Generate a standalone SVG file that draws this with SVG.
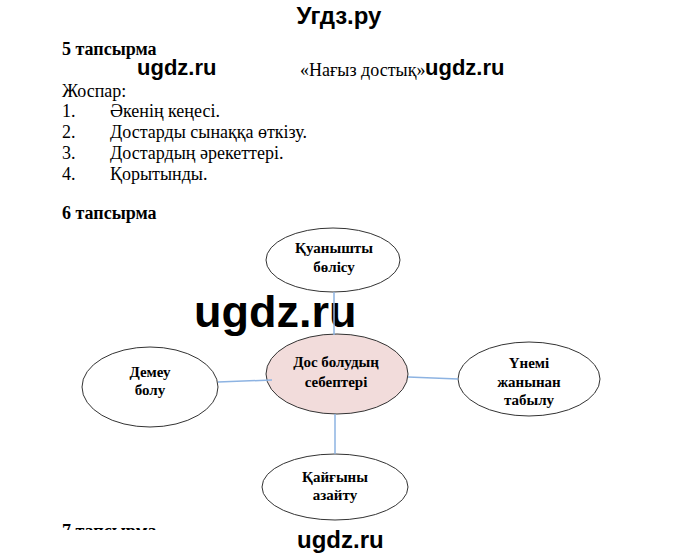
<svg xmlns="http://www.w3.org/2000/svg" width="680" height="559" viewBox="0 0 680 559">
<defs>
<style>
.wm{font-family:"Liberation Sans",Arial,sans-serif;font-weight:bold;fill:#000}
.t{font-family:"Liberation Serif","Times New Roman",serif;font-size:18px;fill:#000}
.b{font-weight:bold}
.n{font-family:"Liberation Serif","Times New Roman",serif;font-size:15px;font-weight:bold;fill:#000;text-anchor:middle}
.e{fill:#fff;stroke:#333;stroke-width:1}
.c{stroke:#8db3e2;stroke-width:1.5;fill:none}
</style>
<clipPath id="cut"><rect x="0" y="0" width="680" height="530"/></clipPath>
</defs>
<rect width="680" height="559" fill="#fff"/>
<text class="wm" x="339" y="24" font-size="24" text-anchor="middle">Угдз.ру</text>
<text class="t b" x="62" y="55">5 тапсырма</text>
<text class="wm" x="137" y="75" font-size="22">ugdz.ru</text>
<text class="t" x="300" y="76">«Нағыз достық»</text>
<text class="wm" x="425" y="75" font-size="22">ugdz.ru</text>
<text class="t" x="62" y="97">Жоспар:</text>
<text class="t" x="62" y="117">1.</text><text class="t" x="110" y="117">Әкенің кеңесі.</text>
<text class="t" x="62" y="138">2.</text><text class="t" x="110" y="138">Достарды сынаққа өткізу.</text>
<text class="t" x="62" y="159">3.</text><text class="t" x="110" y="159">Достардың әрекеттері.</text>
<text class="t" x="62" y="180">4.</text><text class="t" x="110" y="180">Қорытынды.</text>
<text class="t b" x="62" y="219">6 тапсырма</text>
<text class="wm" x="194" y="327" font-size="45">ugdz.ru</text>
<g id="top"><ellipse class="e" cx="333" cy="260" rx="67" ry="32"/><text class="n" x="334" y="253">Қуанышты</text><text class="n" x="334" y="272">бөлісу</text></g>
<g id="center"><ellipse cx="337" cy="374" rx="71" ry="40" fill="#f2dcdb" stroke="#333" stroke-width="1"/><text class="n" x="336" y="367">Дос болудың</text><text class="n" x="336" y="387">себептері</text></g>
<g id="left"><ellipse class="e" cx="150" cy="387" rx="68" ry="40"/><text class="n" x="150" y="377">Демеу</text><text class="n" x="150" y="395">болу</text></g>
<g id="right"><ellipse class="e" cx="529" cy="379" rx="71" ry="37"/><text class="n" x="529" y="368">Үнемі</text><text class="n" x="529" y="387">жанынан</text><text class="n" x="529" y="405">табылу</text></g>
<g id="bottom"><ellipse class="e" cx="335" cy="487" rx="73" ry="33"/><text class="n" x="335" y="482">Қайғыны</text><text class="n" x="335" y="500">азайту</text></g>
<g id="connectors">
<line class="c" x1="334" y1="292" x2="334" y2="335"/>
<line class="c" x1="218" y1="382" x2="272" y2="380"/>
<line class="c" x1="408" y1="377" x2="458" y2="379"/>
<line class="c" x1="335" y1="414" x2="335" y2="454"/>
</g>
<text class="t b" x="62" y="537" clip-path="url(#cut)">7 тапсырма</text>
<text class="wm" x="297" y="548" font-size="24">ugdz.ru</text>
</svg>
